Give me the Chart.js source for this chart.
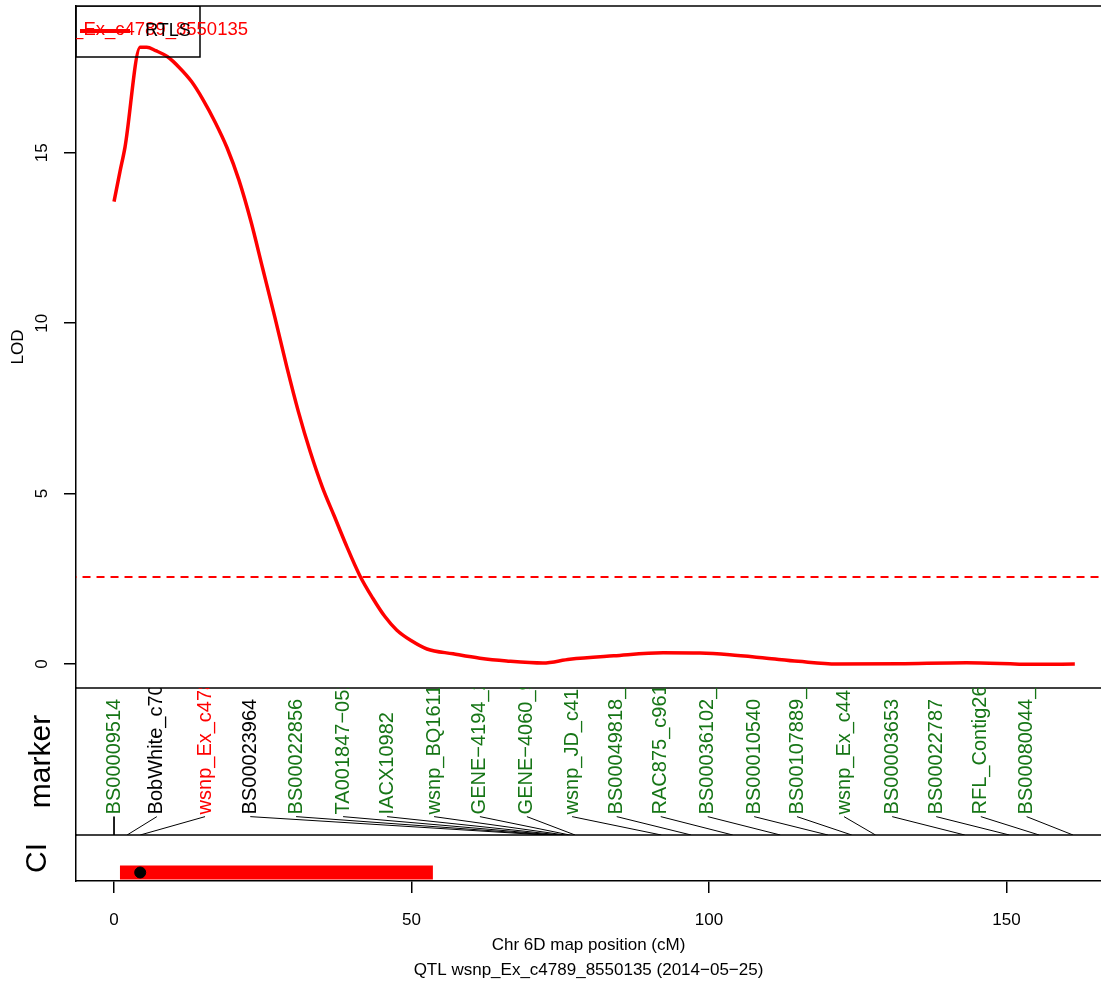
<!DOCTYPE html>
<html>
<head>
<meta charset="UTF-8">
<title>QTL wsnp_Ex_c4789_8550135</title>
<script src="https://cdn.jsdelivr.net/npm/chart.js@4"></script>
<style>
  body { margin: 0; background: #fff; }
</style>
</head>
<body>
<canvas id="qtlChart" width="1101" height="984"></canvas>
<script>
// LOD profile along chromosome 6D
var lodPos = [0, 1.0, 1.85, 4.4, 5.5, 7.0, 9.0, 11.0, 13.0, 15.0, 17.0, 19.0, 21.0, 23.0, 25.0, 27.0, 29.0, 31.0,
  33.0, 35.0, 37.0, 39.0, 41.3, 43.5, 45.5, 47.5, 50.0, 52.6, 57, 61.5, 66, 72.1, 76.6, 84, 92.3, 98.5, 103.5,
  109.7, 115, 121.5, 132, 143.3, 154.5, 161.5];
var lodVal = [13.57, 14.45, 15.17, 18.1, 18.1, 18.0, 17.82, 17.5, 17.1, 16.55, 15.9, 15.15, 14.2, 13.0, 11.6, 10.2,
  8.75, 7.4, 6.22, 5.2, 4.35, 3.5, 2.6, 1.93, 1.4, 1.0, 0.68, 0.44, 0.3, 0.17, 0.09, 0.03, 0.14, 0.24, 0.33, 0.32,
  0.27, 0.17, 0.08, 0.0, 0.01, 0.04, -0.01, 0.0];
var threshold = 2.55;

// markers: name, map position (cM), where the name is printed (cM), colour
var markerNames = ['BS00009514', 'BobWhite_c7000_512', 'wsnp_Ex_c4789_8550135', 'BS00023964', 'BS00022856',
  'TA001847\u22120520', 'IACX10982', 'wsnp_BQ161136_L01', 'GENE\u22124194_271', 'GENE\u22124060_98',
  'wsnp_JD_c4149_5210', 'BS00049818_51', 'RAC875_c9611_2120', 'BS00036102_51', 'BS00010540',
  'BS00107889_51', 'wsnp_Ex_c4412_7940', 'BS00003653', 'BS00022787', 'RFL_Contig2612_11', 'BS00080044_51'];
var markerPos = [0, 2.2, 4.4, 72.4, 73.3, 74.1, 75.0, 75.8, 76.6, 77.5, 92, 97, 104, 112, 120, 124,
  128, 143, 150.5, 155.5, 161.2];
var markerLabelPos = [0, 7.2, 15.3, 22.9, 30.6, 38.5, 45.9, 53.8, 61.5, 69.4, 77.0, 84.5, 91.9, 99.8, 107.6,
  114.8, 122.7, 130.8, 138.2, 145.7, 153.4];
var GREEN = '#167516';
var markerColors = [GREEN, '#000', '#ff0000', '#000', GREEN, GREEN, GREEN, GREEN, GREEN, GREEN, GREEN,
  GREEN, GREEN, GREEN, GREEN, GREEN, GREEN, GREEN, GREEN, GREEN, GREEN];

// confidence interval and peak
var ciLow = 1.0, ciHigh = 53.6, peakPos = 4.4;
var qtlName = 'wsnp_Ex_c4789_8550135';

var xTicks = [0, 50, 100, 150];
var yTicks = [0, 5, 10, 15];

var FONT = '"Liberation Sans", Arial, Helvetica, sans-serif';
Chart.defaults.font.family = FONT;
Chart.defaults.color = '#000';

var datasets = [];
datasets.push({
  data: [{ x: peakPos, y: 0.185 }],
  yAxisID: 'yCi', showLine: false, pointRadius: 5.5, pointBackgroundColor: '#000', pointBorderColor: '#000'
});
datasets.push({
  data: lodPos.map(function (x, i) { return { x: x, y: lodVal[i] }; }),
  yAxisID: 'yLod', borderColor: '#ff0000', borderWidth: 3.5, pointRadius: 0,
  cubicInterpolationMode: 'monotone', fill: false
});
datasets.push({
  data: [{ x: -10, y: threshold }, { x: 200, y: threshold }],
  yAxisID: 'yLod', borderColor: '#ff0000', borderWidth: 2, borderDash: [8, 6], pointRadius: 0
});
markerNames.forEach(function (name, i) {
  datasets.push({
    data: [{ x: markerLabelPos[i], y: 0.125 }, { x: markerPos[i], y: 0 }],
    yAxisID: 'yMarker', borderColor: '#000', borderWidth: 1, pointRadius: 0
  });
});
datasets.push({
  data: [{ x: ciLow, y: 0.185 }, { x: ciHigh, y: 0.185 }],
  yAxisID: 'yCi', borderColor: '#ff0000', borderWidth: 14, borderCapStyle: 'butt', pointRadius: 0
});

// panel frames, marker names and the little legend box
var panelPlugin = {
  id: 'panels',
  afterDatasetsDraw: function (chart) {
    var ctx = chart.ctx, a = chart.chartArea, s = chart.scales;
    ctx.save();
    ctx.strokeStyle = '#000';
    ctx.lineWidth = 1.5;
    [a.top, s.yLod.bottom, s.yMarker.bottom].forEach(function (y) {
      ctx.beginPath(); ctx.moveTo(a.left, y); ctx.lineTo(a.right, y); ctx.stroke();
    });
    ctx.beginPath();
    ctx.rect(a.left, s.yMarker.top, a.right - a.left, s.yMarker.bottom - s.yMarker.top);
    ctx.clip();
    ctx.font = '20px ' + FONT;
    ctx.textAlign = 'left';
    ctx.textBaseline = 'middle';
    markerNames.forEach(function (name, i) {
      ctx.save();
      ctx.translate(s.x.getPixelForValue(markerLabelPos[i]), s.yMarker.getPixelForValue(0.14));
      ctx.rotate(-Math.PI / 2);
      ctx.fillStyle = markerColors[i];
      ctx.fillText(name, 0, 0);
      ctx.restore();
    });
    ctx.restore();

    ctx.save();
    ctx.beginPath();
    ctx.rect(a.left, a.top, a.right - a.left, a.bottom - a.top);
    ctx.clip();
    ctx.strokeStyle = '#000';
    ctx.lineWidth = 1.5;
    ctx.strokeRect(a.left, a.top, 124, 51);
    ctx.strokeStyle = '#ff0000';
    ctx.lineWidth = 4;
    ctx.beginPath(); ctx.moveTo(a.left + 4, a.top + 25); ctx.lineTo(a.left + 54, a.top + 25); ctx.stroke();
    ctx.textBaseline = 'middle';
    ctx.font = '18.5px ' + FONT;
    ctx.fillStyle = '#ff0000';
    ctx.textAlign = 'right';
    ctx.fillText(qtlName, a.left + 172, a.top + 24);
    ctx.font = '18px ' + FONT;
    ctx.fillStyle = '#000';
    ctx.textAlign = 'center';
    ctx.fillText('RTLS', a.left + 92, a.top + 25);
    ctx.restore();
  }
};

function fixWidth(scale) {
  scale.width = 76;
  scale.paddingTop = 0; scale.paddingBottom = 0;
}

new Chart(document.getElementById('qtlChart'), {
  type: 'line',
  data: { datasets: datasets },
  plugins: [panelPlugin],
  options: {
    responsive: false,
    animation: false,
    layout: { autoPadding: false, padding: { top: 6, right: 0, bottom: 0, left: 0 } },
    plugins: { legend: { display: false }, tooltip: { enabled: false } },
    scales: {
      x: {
        type: 'linear', position: 'bottom', min: -6.39, max: 165.9,
        afterBuildTicks: function (s) { s.ticks = xTicks.map(function (v) { return { value: v }; }); },
        afterFit: function (s) { s.height = 103; s.paddingLeft = 0; s.paddingRight = 0; },
        grid: { drawOnChartArea: false, tickLength: 12, color: '#000', lineWidth: 1.5 },
        border: { display: true, color: '#000', width: 1.5 },
        ticks: { padding: 17, maxRotation: 0, font: { size: 17 }, color: '#000' },
        title: {
          display: true, color: '#000',
          text: ['Chr 6D map position (cM)', 'QTL ' + qtlName + ' (2014\u221205\u221225)'],
          font: { size: 17, lineHeight: '25px' }, padding: { top: 0, bottom: 1 }
        }
      },
      yCi: {
        type: 'linear', position: 'left', stack: 'panels', stackWeight: 46, min: 0, max: 1,
        afterFit: fixWidth,
        ticks: { display: false }, grid: { display: false },
        border: { display: true, color: '#000', width: 1.5 },
        title: { display: true, text: 'CI', color: '#000', font: { size: 30 }, padding: { top: 20, bottom: 0 } }
      },
      yMarker: {
        type: 'linear', position: 'left', stack: 'panels', stackWeight: 147, min: 0, max: 1,
        afterFit: fixWidth,
        ticks: { display: false }, grid: { display: false },
        border: { display: true, color: '#000', width: 1.5 },
        title: { display: true, text: 'marker', color: '#000', font: { size: 30 }, padding: { top: 24, bottom: 0 } }
      },
      yLod: {
        type: 'linear', position: 'left', stack: 'panels', stackWeight: 682, min: -0.704, max: 19.31,
        afterFit: fixWidth,
        afterBuildTicks: function (s) { s.ticks = yTicks.map(function (v) { return { value: v }; }); },
        grid: { drawOnChartArea: false, tickLength: 12, color: '#000', lineWidth: 1.5 },
        border: { display: true, color: '#000', width: 1.5 },
        ticks: { crossAlign: 'center', minRotation: 90, maxRotation: 90, padding: 12, font: { size: 17 }, color: '#000' },
        title: { display: true, text: 'LOD', color: '#000', font: { size: 17 }, padding: { top: 8, bottom: 0 } }
      }
    }
  }
});
</script>
</body>
</html>
